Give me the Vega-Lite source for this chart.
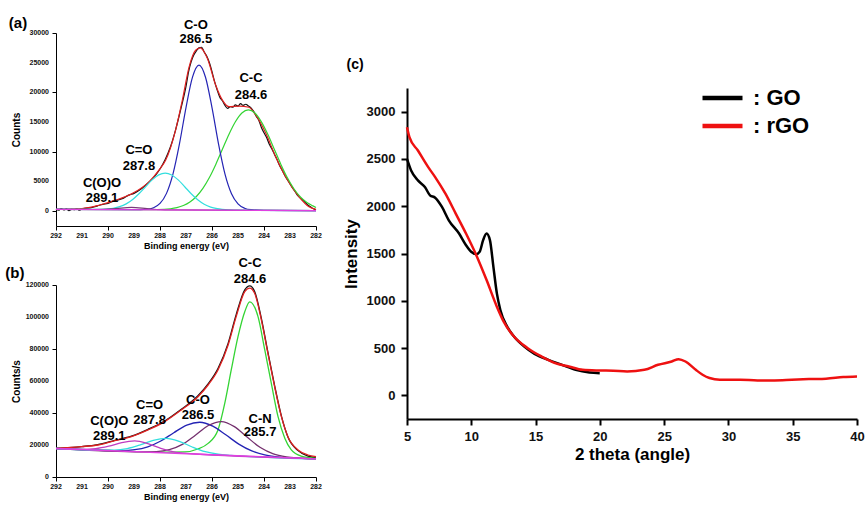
{
  "$schema": "https://vega.github.io/schema/vega-lite/v6.json",
  "padding": {"left": 5, "top": 15, "right": 0, "bottom": 0},
  "background": "white",
  "config": {
    "view": {"stroke": null},
    "font": "Liberation Sans",
    "axis": {"grid": false, "domainColor": "black", "tickColor": "black", "labelColor": "#111", "titleColor": "black", "labelFlush": false, "labelOverlap": false, "labelFont": "Liberation Sans", "titleFont": "Liberation Sans"}
  },
  "datasets": {
    "a": [
      {"s":"data","x":292,"y":350},{"s":"data","x":291.9,"y":150},{"s":"data","x":291.8,"y":420},{"s":"data","x":291.7,"y":200},{"s":"data","x":291.6,"y":380},{"s":"data","x":291.5,"y":100},{"s":"data","x":291.4,"y":300},{"s":"data","x":291.3,"y":250},{"s":"data","x":291.2,"y":400},{"s":"data","x":291.1,"y":150},{"s":"data","x":291.0,"y":420},{"s":"data","x":290.8,"y":500},{"s":"data","x":290.6,"y":650},{"s":"data","x":290.4,"y":900},{"s":"data","x":290.2,"y":1150},{"s":"data","x":290.0,"y":1300},{"s":"data","x":289.8,"y":1700},{"s":"data","x":289.6,"y":1900},{"s":"data","x":289.4,"y":2200},{"s":"data","x":289.2,"y":2700},{"s":"data","x":289.0,"y":3000},{"s":"data","x":288.8,"y":3500},{"s":"data","x":288.6,"y":4200},{"s":"data","x":288.4,"y":5000},{"s":"data","x":288.2,"y":5900},{"s":"data","x":288.0,"y":7100},{"s":"data","x":287.8,"y":8700},{"s":"data","x":287.6,"y":10800},{"s":"data","x":287.4,"y":13700},{"s":"data","x":287.2,"y":17200},{"s":"data","x":287.0,"y":21000},{"s":"data","x":286.9,"y":23500},{"s":"data","x":286.8,"y":25200},{"s":"data","x":286.7,"y":26300},{"s":"data","x":286.6,"y":27000},{"s":"data","x":286.5,"y":27500},{"s":"data","x":286.4,"y":27600},{"s":"data","x":286.3,"y":26800},{"s":"data","x":286.2,"y":26100},{"s":"data","x":286.1,"y":25000},{"s":"data","x":286.0,"y":23500},{"s":"data","x":285.9,"y":21800},{"s":"data","x":285.8,"y":20400},{"s":"data","x":285.7,"y":19200},{"s":"data","x":285.6,"y":18600},{"s":"data","x":285.5,"y":17800},{"s":"data","x":285.4,"y":17300},{"s":"data","x":285.3,"y":17600},{"s":"data","x":285.2,"y":17500},{"s":"data","x":285.1,"y":17900},{"s":"data","x":285.0,"y":17700},{"s":"data","x":284.9,"y":18100},{"s":"data","x":284.8,"y":17800},{"s":"data","x":284.7,"y":18000},{"s":"data","x":284.6,"y":17700},{"s":"data","x":284.5,"y":17400},{"s":"data","x":284.4,"y":16800},{"s":"data","x":284.3,"y":16000},{"s":"data","x":284.2,"y":15300},{"s":"data","x":284.1,"y":14100},{"s":"data","x":284.0,"y":13200},{"s":"data","x":283.9,"y":12400},{"s":"data","x":283.8,"y":11300},{"s":"data","x":283.7,"y":10500},{"s":"data","x":283.6,"y":9600},{"s":"data","x":283.5,"y":8700},{"s":"data","x":283.4,"y":7700},{"s":"data","x":283.3,"y":6900},{"s":"data","x":283.2,"y":6000},{"s":"data","x":283.1,"y":5300},{"s":"data","x":283.0,"y":4600},{"s":"data","x":282.9,"y":3900},{"s":"data","x":282.8,"y":3300},{"s":"data","x":282.7,"y":2600},{"s":"data","x":282.6,"y":2200},{"s":"data","x":282.5,"y":1800},{"s":"data","x":282.4,"y":1400},{"s":"data","x":282.3,"y":1000},{"s":"data","x":282.2,"y":700},{"s":"data","x":282.1,"y":400},{"s":"data","x":282.0,"y":200},
      {"s":"fit","x":292,"y":300},{"s":"fit","x":291,"y":450},{"s":"fit","x":290.35,"y":1000},{"s":"fit","x":289.7,"y":1850},{"s":"fit","x":289.07,"y":2980},{"s":"fit","x":288.42,"y":4940},{"s":"fit","x":288.04,"y":6900},{"s":"fit","x":287.78,"y":8600},{"s":"fit","x":287.4,"y":13660},{"s":"fit","x":287.14,"y":18700},{"s":"fit","x":286.88,"y":24300},{"s":"fit","x":286.63,"y":27100},{"s":"fit","x":286.45,"y":27500},{"s":"fit","x":286.18,"y":25750},{"s":"fit","x":285.86,"y":21250},{"s":"fit","x":285.6,"y":18700},{"s":"fit","x":285.35,"y":17600},{"s":"fit","x":284.96,"y":17700},{"s":"fit","x":284.58,"y":17500},{"s":"fit","x":284.32,"y":16200},{"s":"fit","x":283.93,"y":13100},{"s":"fit","x":283.55,"y":9160},{"s":"fit","x":283.17,"y":5790},{"s":"fit","x":282.65,"y":2410},{"s":"fit","x":282.27,"y":730},{"s":"fit","x":282,"y":290},
      {"s":"CC","x":282,"y":600},{"s":"CC","x":282.1,"y":844},{"s":"CC","x":282.35,"y":1452},{"s":"CC","x":282.6,"y":2392},{"s":"CC","x":282.85,"y":3767},{"s":"CC","x":283.1,"y":5612},{"s":"CC","x":283.35,"y":7867},{"s":"CC","x":283.6,"y":10392},{"s":"CC","x":283.85,"y":12897},{"s":"CC","x":284.1,"y":15042},{"s":"CC","x":284.35,"y":16527},{"s":"CC","x":284.6,"y":17052},{"s":"CC","x":284.85,"y":16537},{"s":"CC","x":285.1,"y":15062},{"s":"CC","x":285.35,"y":12927},{"s":"CC","x":285.6,"y":10432},{"s":"CC","x":285.85,"y":7917},{"s":"CC","x":286.1,"y":5672},{"s":"CC","x":286.35,"y":3837},{"s":"CC","x":286.6,"y":2472},{"s":"CC","x":286.85,"y":1542},{"s":"CC","x":287.1,"y":944},{"s":"CC","x":287.35,"y":592},{"s":"CC","x":287.6,"y":400},{"s":"CC","x":288.1,"y":259},{"s":"CC","x":289,"y":240},{"s":"CC","x":292,"y":300},
      {"s":"CO","x":282,"y":100},{"s":"CO","x":284,"y":140},{"s":"CO","x":284.5,"y":245},{"s":"CO","x":284.75,"y":501},{"s":"CO","x":285,"y":1234},{"s":"CO","x":285.25,"y":2945},{"s":"CO","x":285.5,"y":6250},{"s":"CO","x":285.75,"y":11345},{"s":"CO","x":286,"y":17430},{"s":"CO","x":286.25,"y":22555},{"s":"CO","x":286.5,"y":24590},{"s":"CO","x":286.75,"y":22565},{"s":"CO","x":287,"y":17450},{"s":"CO","x":287.25,"y":11375},{"s":"CO","x":287.5,"y":6290},{"s":"CO","x":287.75,"y":2995},{"s":"CO","x":288,"y":1294},{"s":"CO","x":288.25,"y":571},{"s":"CO","x":288.5,"y":325},{"s":"CO","x":289,"y":240},{"s":"CO","x":292,"y":300},
      {"s":"C=O","x":282,"y":100},{"s":"C=O","x":285,"y":160},{"s":"C=O","x":285.3,"y":203},{"s":"C=O","x":285.8,"y":412},{"s":"C=O","x":286.05,"y":683},{"s":"C=O","x":286.3,"y":1166},{"s":"C=O","x":286.55,"y":1915},{"s":"C=O","x":286.8,"y":2930},{"s":"C=O","x":287.05,"y":4113},{"s":"C=O","x":287.3,"y":5259},{"s":"C=O","x":287.55,"y":6101},{"s":"C=O","x":287.8,"y":6416},{"s":"C=O","x":288.05,"y":6111},{"s":"C=O","x":288.3,"y":5279},{"s":"C=O","x":288.55,"y":4143},{"s":"C=O","x":288.8,"y":2970},{"s":"C=O","x":289.05,"y":1965},{"s":"C=O","x":289.3,"y":1226},{"s":"C=O","x":289.55,"y":753},{"s":"C=O","x":289.8,"y":492},{"s":"C=O","x":290.3,"y":303},{"s":"C=O","x":292,"y":300},
      {"s":"COO","x":282,"y":100},{"s":"COO","x":287.5,"y":220},{"s":"COO","x":288,"y":260},{"s":"COO","x":288.5,"y":430},{"s":"COO","x":289.1,"y":620},{"s":"COO","x":289.7,"y":450},{"s":"COO","x":290.2,"y":320},{"s":"COO","x":291,"y":280},{"s":"COO","x":292,"y":300},
      {"s":"base","x":282,"y":100},{"s":"base","x":292,"y":300}
    ],
    "alab": [
      {"t":"C-O","x":286.62,"y":31370},{"t":"286.5","x":286.62,"y":29000},
      {"t":"C-C","x":284.5,"y":22430},{"t":"284.6","x":284.5,"y":19560},
      {"t":"C=O","x":288.81,"y":10290},{"t":"287.8","x":288.81,"y":7590},
      {"t":"C(O)O","x":290.23,"y":4720},{"t":"289.1","x":290.23,"y":2190}
    ],
    "evTicks": [{"v":282},{"v":283},{"v":284},{"v":285},{"v":286},{"v":287},{"v":288},{"v":289},{"v":290},{"v":291},{"v":292}],
    "aTicks": [{"v":0},{"v":5000},{"v":10000},{"v":15000},{"v":20000},{"v":25000},{"v":30000}],
    "bTicks": [{"v":0},{"v":20000},{"v":40000},{"v":60000},{"v":80000},{"v":100000},{"v":120000}],
    "b": [
      {"s":"data","x":292,"y":18000},{"s":"data","x":291.5,"y":18400},{"s":"data","x":291,"y":19000},{"s":"data","x":290.4,"y":20200},{"s":"data","x":289.74,"y":22900},{"s":"data","x":289.1,"y":25500},{"s":"data","x":288.46,"y":29800},{"s":"data","x":287.82,"y":35000},{"s":"data","x":287.18,"y":42300},{"s":"data","x":286.54,"y":50800},{"s":"data","x":286.15,"y":58200},{"s":"data","x":285.77,"y":67800},{"s":"data","x":285.38,"y":83500},{"s":"data","x":285.07,"y":101500},{"s":"data","x":284.74,"y":117000},{"s":"data","x":284.55,"y":119500},{"s":"data","x":284.36,"y":116000},{"s":"data","x":284.1,"y":99000},{"s":"data","x":283.85,"y":78000},{"s":"data","x":283.59,"y":57000},{"s":"data","x":283.33,"y":38000},{"s":"data","x":283.08,"y":25000},{"s":"data","x":282.69,"y":16500},{"s":"data","x":282.31,"y":13000},{"s":"data","x":282,"y":12000},
      {"s":"fit","x":292,"y":17900},{"s":"fit","x":291.03,"y":19000},{"s":"fit","x":290.38,"y":20000},{"s":"fit","x":289.74,"y":22700},{"s":"fit","x":289.1,"y":25200},{"s":"fit","x":288.46,"y":29400},{"s":"fit","x":287.82,"y":34600},{"s":"fit","x":287.18,"y":41900},{"s":"fit","x":286.54,"y":50200},{"s":"fit","x":286.15,"y":57500},{"s":"fit","x":285.77,"y":66900},{"s":"fit","x":285.38,"y":82500},{"s":"fit","x":285.07,"y":100200},{"s":"fit","x":284.74,"y":115800},{"s":"fit","x":284.55,"y":118000},{"s":"fit","x":284.36,"y":114800},{"s":"fit","x":284.1,"y":98100},{"s":"fit","x":283.85,"y":77300},{"s":"fit","x":283.59,"y":56400},{"s":"fit","x":283.33,"y":37700},{"s":"fit","x":283.08,"y":25200},{"s":"fit","x":282.69,"y":16900},{"s":"fit","x":282.31,"y":13750},{"s":"fit","x":282,"y":12700},
      {"s":"CC","x":292,"y":17800},{"s":"CC","x":290,"y":16600},{"s":"CC","x":288,"y":15500},{"s":"CC","x":287.05,"y":15700},{"s":"CC","x":286.54,"y":17500},{"s":"CC","x":286.15,"y":21000},{"s":"CC","x":285.77,"y":29400},{"s":"CC","x":285.51,"y":46000},{"s":"CC","x":285.26,"y":66900},{"s":"CC","x":285.0,"y":87700},{"s":"CC","x":284.74,"y":103300},{"s":"CC","x":284.55,"y":109500},{"s":"CC","x":284.23,"y":100200},{"s":"CC","x":283.97,"y":79400},{"s":"CC","x":283.72,"y":58600},{"s":"CC","x":283.46,"y":37700},{"s":"CC","x":283.2,"y":24200},{"s":"CC","x":282.95,"y":16900},{"s":"CC","x":282.57,"y":13100},{"s":"CC","x":282,"y":11700},
      {"s":"CO","x":282,"y":11300},{"s":"CO","x":282.97,"y":12016},{"s":"CO","x":283.47,"y":12616},{"s":"CO","x":283.97,"y":13820},{"s":"CO","x":284.47,"y":16286},{"s":"CO","x":284.97,"y":20570},{"s":"CO","x":285.47,"y":26376},{"s":"CO","x":285.97,"y":31780},{"s":"CO","x":286.47,"y":34206},{"s":"CO","x":286.97,"y":32430},{"s":"CO","x":287.47,"y":27676},{"s":"CO","x":287.97,"y":22520},{"s":"CO","x":288.47,"y":18886},{"s":"CO","x":288.97,"y":17070},{"s":"CO","x":289.47,"y":16516},{"s":"CO","x":289.97,"y":16566},{"s":"CO","x":292,"y":17800},
      {"s":"CN","x":282,"y":11300},{"s":"CN","x":282.64,"y":11832},{"s":"CN","x":283.14,"y":12608},{"s":"CN","x":283.64,"y":14446},{"s":"CN","x":284.14,"y":18401},{"s":"CN","x":284.64,"y":24796},{"s":"CN","x":285.14,"y":31506},{"s":"CN","x":285.64,"y":34666},{"s":"CN","x":286.14,"y":32156},{"s":"CN","x":286.64,"y":26096},{"s":"CN","x":287.14,"y":20351},{"s":"CN","x":287.64,"y":17046},{"s":"CN","x":288.14,"y":15858},{"s":"CN","x":288.64,"y":15732},{"s":"CN","x":292,"y":17800},
      {"s":"C=O","x":282,"y":11300},{"s":"C=O","x":285.26,"y":13507},{"s":"C=O","x":285.76,"y":14211},{"s":"C=O","x":286.26,"y":15789},{"s":"C=O","x":286.76,"y":18749},{"s":"C=O","x":287.26,"y":22314},{"s":"C=O","x":287.76,"y":24194},{"s":"C=O","x":288.26,"y":22964},{"s":"C=O","x":288.76,"y":20049},{"s":"C=O","x":289.26,"y":17739},{"s":"C=O","x":289.76,"y":16811},{"s":"C=O","x":290.26,"y":16757},{"s":"C=O","x":292,"y":17800},
      {"s":"COO","x":282,"y":11300},{"s":"COO","x":286.47,"y":14232},{"s":"COO","x":286.97,"y":14718},{"s":"COO","x":287.47,"y":15761},{"s":"COO","x":287.97,"y":17934},{"s":"COO","x":288.47,"y":20873},{"s":"COO","x":288.97,"y":22530},{"s":"COO","x":289.47,"y":21523},{"s":"COO","x":289.97,"y":19234},{"s":"COO","x":290.47,"y":17711},{"s":"COO","x":290.97,"y":17318},{"s":"COO","x":291.47,"y":17482},{"s":"COO","x":292,"y":17800},
      {"s":"base","x":282,"y":11300},{"s":"base","x":292,"y":17800}
    ],
    "blab": [
      {"t":"C-C","x":284.54,"y":133750},{"t":"284.6","x":284.54,"y":123750},
      {"t":"C-O","x":286.54,"y":48100},{"t":"286.5","x":286.54,"y":38750},
      {"t":"C=O","x":288.4,"y":45000},{"t":"287.8","x":288.4,"y":35500},
      {"t":"C(O)O","x":289.95,"y":35000},{"t":"289.1","x":289.95,"y":25800},
      {"t":"C-N","x":284.15,"y":36000},{"t":"285.7","x":284.15,"y":28000}
    ],
    "c": [
      {"s":"GO","x":5,"y":2500},{"s":"GO","x":5.32,"y":2378},{"s":"GO","x":5.85,"y":2273},{"s":"GO","x":6.39,"y":2203},{"s":"GO","x":6.79,"y":2115},{"s":"GO","x":7.19,"y":2090},{"s":"GO","x":7.72,"y":1992},{"s":"GO","x":8.25,"y":1851},{"s":"GO","x":9.05,"y":1711},{"s":"GO","x":9.59,"y":1588},{"s":"GO","x":9.99,"y":1518},{"s":"GO","x":10.39,"y":1493},{"s":"GO","x":10.65,"y":1518},{"s":"GO","x":10.92,"y":1641},{"s":"GO","x":11.19,"y":1711},{"s":"GO","x":11.45,"y":1641},{"s":"GO","x":11.72,"y":1359},{"s":"GO","x":11.99,"y":1078},{"s":"GO","x":12.26,"y":903},{"s":"GO","x":12.79,"y":727},{"s":"GO","x":13.32,"y":622},{"s":"GO","x":14.12,"y":516},{"s":"GO","x":14.92,"y":439},{"s":"GO","x":15.99,"y":376},{"s":"GO","x":17.06,"y":323},{"s":"GO","x":18.12,"y":270},{"s":"GO","x":19.19,"y":242},{"s":"GO","x":19.99,"y":235},
      {"s":"rGO","x":5,"y":2835},{"s":"rGO","x":5.19,"y":2730},{"s":"rGO","x":5.85,"y":2589},{"s":"rGO","x":6.65,"y":2413},{"s":"rGO","x":7.19,"y":2308},{"s":"rGO","x":7.99,"y":2132},{"s":"rGO","x":8.79,"y":1922},{"s":"rGO","x":9.59,"y":1711},{"s":"rGO","x":10.39,"y":1482},{"s":"rGO","x":11.19,"y":1219},{"s":"rGO","x":11.99,"y":938},{"s":"rGO","x":12.52,"y":780},{"s":"rGO","x":13.32,"y":622},{"s":"rGO","x":14.39,"y":499},{"s":"rGO","x":15.46,"y":411},{"s":"rGO","x":16.52,"y":341},{"s":"rGO","x":17.59,"y":306},{"s":"rGO","x":18.66,"y":270},{"s":"rGO","x":19.99,"y":263},{"s":"rGO","x":21.06,"y":260},{"s":"rGO","x":22.12,"y":253},{"s":"rGO","x":23.46,"y":270},{"s":"rGO","x":24.53,"y":323},{"s":"rGO","x":25.59,"y":358},{"s":"rGO","x":26.13,"y":383},{"s":"rGO","x":26.66,"y":358},{"s":"rGO","x":27.46,"y":270},{"s":"rGO","x":27.99,"y":218},{"s":"rGO","x":28.53,"y":183},{"s":"rGO","x":29.33,"y":165},{"s":"rGO","x":30.93,"y":165},{"s":"rGO","x":32.26,"y":158},{"s":"rGO","x":33.59,"y":158},{"s":"rGO","x":34.93,"y":165},{"s":"rGO","x":36.26,"y":172},{"s":"rGO","x":37.59,"y":176},{"s":"rGO","x":38.93,"y":193},{"s":"rGO","x":40,"y":200}
    ]
  },
  "resolve": {"scale": {"color": "independent"}, "legend": {"color": "independent"}},
  "spacing": 351,
  "bounds": "flush",
  "hconcat": [
    {
      "bounds": "flush",
      "spacing": 59,
      "resolve": {"scale": {"color": "independent"}, "legend": {"color": "independent"}},
      "vconcat": [
        {
          "width": 260, "height": 193,
          "layer": [
            {
              "data": {"name": "a"},
              "mark": {"type": "line", "strokeWidth": 1.2, "interpolate": "monotone"},
              "encoding": {
                "x": {"field": "x", "type": "quantitative", "scale": {"domain": [282, 292], "reverse": true, "nice": false, "zero": false},
                  "axis": {"title": "Binding energy (eV)", "values": [282,282.5,283,283.5,284,284.5,285,285.5,286,286.5,287,287.5,288,288.5,289,289.5,290,290.5,291,291.5,292], "labels": false, "tickSize": {"condition": {"test": "datum.value % 1 === 0", "value": 4}, "value": 2}, "titleFontSize": 9, "titleFontWeight": "bold", "titlePadding": 11}},
                "y": {"field": "y", "type": "quantitative", "scale": {"domain": [-2500, 30000], "nice": false, "zero": false},
                  "axis": {"title": "Counts", "values": [0,2500,5000,7500,10000,12500,15000,17500,20000,22500,25000,27500,30000], "labels": false, "tickSize": {"condition": {"test": "datum.value % 5000 === 0", "value": 4}, "value": 2}, "titleFontSize": 10, "titleFontWeight": "bold", "titlePadding": 30}},
                "color": {"field": "s", "type": "nominal", "legend": null, "scale": {"domain": ["data","fit","CC","CO","C=O","COO","base"], "range": ["#111111","#e02020","#33d433","#2424b4","#33dede","#7a3a7a","#e040e0"]}}
              }
            },
            {
              "data": {"name": "evTicks"},
              "mark": {"type": "text", "fontSize": 7, "fontWeight": "bold", "color": "#111", "align": "center", "baseline": "middle", "dy": 10},
              "encoding": {"x": {"field": "v", "type": "quantitative"}, "y": {"datum": -2500, "type": "quantitative"}, "text": {"field": "v", "type": "quantitative", "format": "d"}}
            },
            {
              "data": {"name": "aTicks"},
              "mark": {"type": "text", "fontSize": 7, "fontWeight": "bold", "color": "#111", "align": "right", "baseline": "middle", "dx": -7},
              "encoding": {"x": {"datum": 292, "type": "quantitative"}, "y": {"field": "v", "type": "quantitative"}, "text": {"field": "v", "type": "quantitative", "format": "d"}}
            },
            {
              "data": {"name": "alab"},
              "mark": {"type": "text", "fontSize": 13, "fontWeight": "bold", "align": "center", "baseline": "middle"},
              "encoding": {"x": {"field": "x", "type": "quantitative"}, "y": {"field": "y", "type": "quantitative"}, "text": {"field": "t"}}
            },
            {
              "data": {"values": [{"t": "(a)", "x": 293.46, "y": 31700}]},
              "mark": {"type": "text", "fontSize": 15, "fontWeight": "bold", "align": "center", "baseline": "middle"},
              "encoding": {"x": {"field": "x", "type": "quantitative"}, "y": {"field": "y", "type": "quantitative"}, "text": {"field": "t"}}
            }
          ]
        },
        {
          "width": 260, "height": 192,
          "layer": [
            {
              "data": {"name": "b"},
              "mark": {"type": "line", "strokeWidth": 1.3, "interpolate": "monotone"},
              "encoding": {
                "x": {"field": "x", "type": "quantitative", "scale": {"domain": [282, 292], "reverse": true, "nice": false, "zero": false},
                  "axis": {"title": "Binding energy (eV)", "values": [282,282.5,283,283.5,284,284.5,285,285.5,286,286.5,287,287.5,288,288.5,289,289.5,290,290.5,291,291.5,292], "labels": false, "tickSize": {"condition": {"test": "datum.value % 1 === 0", "value": 4}, "value": 2}, "titleFontSize": 9, "titleFontWeight": "bold", "titlePadding": 11}},
                "y": {"field": "y", "type": "quantitative", "scale": {"domain": [0, 120000], "nice": false, "zero": false},
                  "axis": {"title": "Counts/s", "values": [0,10000,20000,30000,40000,50000,60000,70000,80000,90000,100000,110000,120000], "labels": false, "tickSize": {"condition": {"test": "datum.value % 20000 === 0", "value": 4}, "value": 2}, "titleFontSize": 10, "titleFontWeight": "bold", "titlePadding": 30}},
                "color": {"field": "s", "type": "nominal", "legend": null, "scale": {"domain": ["data","fit","CC","CO","C=O","CN","COO","base"], "range": ["#111111","#e02020","#33d433","#2424b4","#33dede","#74306e","#c03cc0","#e040e0"]}}
              }
            },
            {
              "data": {"name": "evTicks"},
              "mark": {"type": "text", "fontSize": 7, "fontWeight": "bold", "color": "#111", "align": "center", "baseline": "middle", "dy": 10},
              "encoding": {"x": {"field": "v", "type": "quantitative"}, "y": {"datum": 0, "type": "quantitative"}, "text": {"field": "v", "type": "quantitative", "format": "d"}}
            },
            {
              "data": {"name": "bTicks"},
              "mark": {"type": "text", "fontSize": 7, "fontWeight": "bold", "color": "#111", "align": "right", "baseline": "middle", "dx": -7},
              "encoding": {"x": {"datum": 292, "type": "quantitative"}, "y": {"field": "v", "type": "quantitative"}, "text": {"field": "v", "type": "quantitative", "format": "d"}}
            },
            {
              "data": {"name": "blab"},
              "mark": {"type": "text", "fontSize": 13, "fontWeight": "bold", "align": "center", "baseline": "middle"},
              "encoding": {"x": {"field": "x", "type": "quantitative"}, "y": {"field": "y", "type": "quantitative"}, "text": {"field": "t"}}
            },
            {
              "data": {"values": [{"t": "(b)", "x": 293.58, "y": 127500}]},
              "mark": {"type": "text", "fontSize": 15, "fontWeight": "bold", "align": "center", "baseline": "middle"},
              "encoding": {"x": {"field": "x", "type": "quantitative"}, "y": {"field": "y", "type": "quantitative"}, "text": {"field": "t"}}
            }
          ]
        }
      ]
    },
    {
      "bounds": "flush",
      "spacing": 0,
      "vconcat": [
        {
          "width": 450, "height": 55,
          "data": {"values": []},
          "mark": "point"
        },
        {
          "width": 450, "height": 331,
          "layer": [
            {
              "data": {"name": "c"},
              "mark": {"type": "line", "strokeWidth": 2.5, "interpolate": "monotone"},
              "encoding": {
                "x": {"field": "x", "type": "quantitative", "scale": {"domain": [5, 40], "nice": false, "zero": false},
                  "axis": {"title": "2 theta (angle)", "values": [5,7.5,10,12.5,15,17.5,20,22.5,25,27.5,30,32.5,35,37.5,40], "format": "d", "labelOverlap": false, "labelExpr": "datum.value % 5 === 0 ? datum.label : ''", "tickSize": {"condition": {"test": "datum.value % 5 === 0", "value": 6}, "value": 3}, "tickWidth": 2, "domainWidth": 2, "labelFontSize": 13, "labelFontWeight": "bold", "labelPadding": 5, "titleFontSize": 17, "titleFontWeight": "bold", "titlePadding": 3}},
                "y": {"field": "y", "type": "quantitative", "scale": {"domain": [-250, 3250], "nice": false, "zero": false},
                  "axis": {"title": "Intensity", "values": [0,250,500,750,1000,1250,1500,1750,2000,2250,2500,2750,3000], "format": "d", "labelOverlap": false, "labelExpr": "datum.value % 500 === 0 ? datum.label : ''", "tickSize": {"condition": {"test": "datum.value % 500 === 0", "value": 6}, "value": 3}, "tickWidth": 2, "domainWidth": 2, "labelFontSize": 13, "labelFontWeight": "bold", "labelPadding": 6, "titleFontSize": 17, "titleFontWeight": "bold", "titlePadding": 6}},
                "color": {"field": "s", "type": "nominal", "scale": {"domain": ["GO", "rGO"], "range": ["#000000", "#ee1111"]},
                  "legend": {"orient": "none", "legendX": 293, "legendY": 52, "title": null, "padding": 0, "symbolType": "stroke", "symbolSize": 1600, "symbolStrokeWidth": 4.5, "labelFontSize": 22, "labelFontWeight": "bold", "labelColor": "black", "labelExpr": "': ' + datum.label", "labelOffset": 8, "clipHeight": 26, "rowPadding": 2}}
              }
            },
            {
              "data": {"values": [{"t": "(c)", "x": 0.96, "y": 3495}]},
              "mark": {"type": "text", "fontSize": 14, "fontWeight": "bold", "align": "center", "baseline": "middle"},
              "encoding": {"x": {"field": "x", "type": "quantitative"}, "y": {"field": "y", "type": "quantitative"}, "text": {"field": "t"}}
            }
          ]
        }
      ]
    }
  ]
}
